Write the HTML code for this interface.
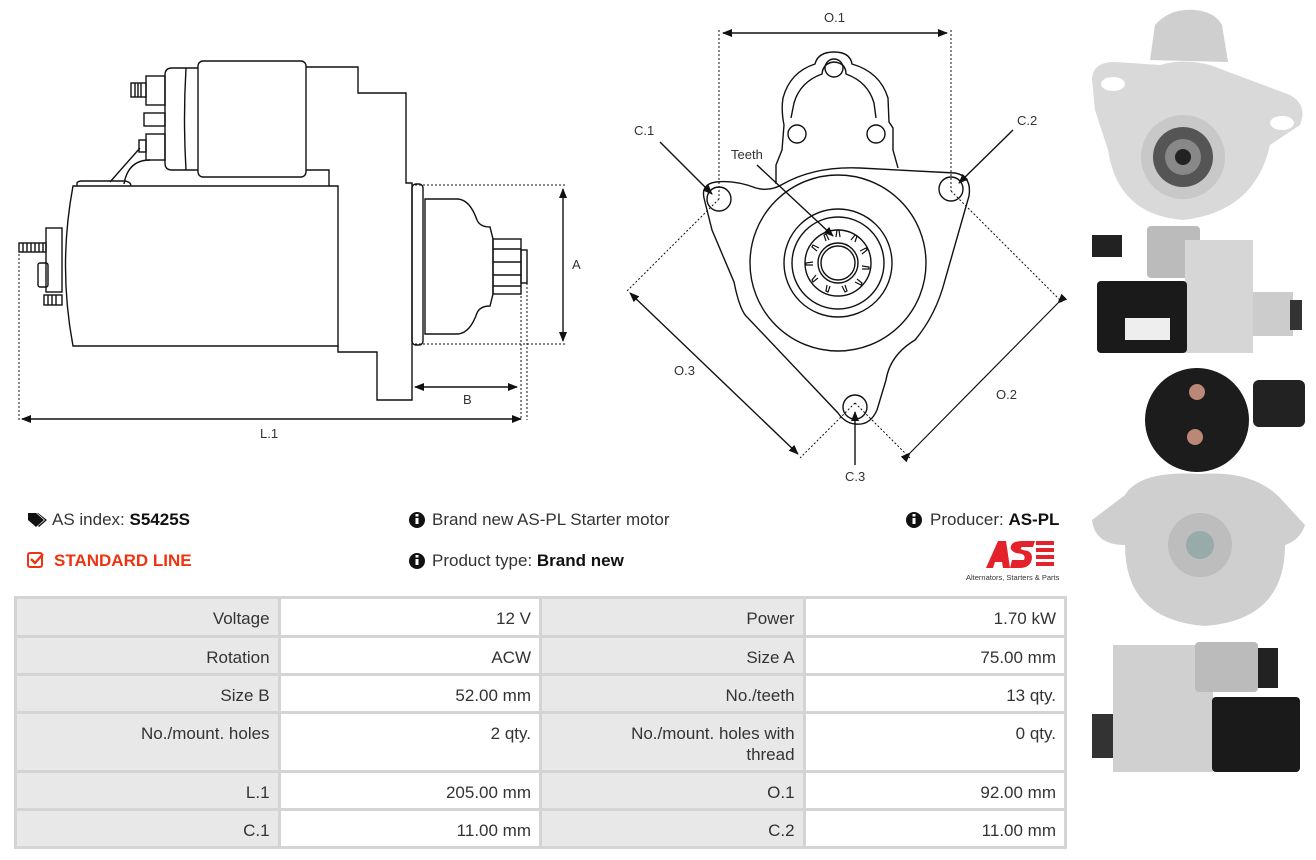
<!DOCTYPE html>
<html><head><meta charset="utf-8">
<style>
*{margin:0;padding:0;box-sizing:border-box}
body{width:1316px;height:860px;background:#fff;position:relative;overflow:hidden;font-family:"Liberation Sans",Arial,sans-serif;color:#222}
svg{position:absolute;left:0;top:0}
.t{position:absolute;font-size:17px;white-space:nowrap;color:#333}
.t b{color:#111}
table{position:absolute;left:14px;top:596px;width:1053px;border-collapse:collapse;font-size:17px;color:#333}
td{border:3px solid #d4d4d4;text-align:right;padding:0 8px;vertical-align:top;padding-top:9px;line-height:21px}
td.l{background:#e8e8e8;width:264px}
td.v{background:#fff;width:262px}
</style></head><body>
<svg width="1316" height="860" viewBox="0 0 1316 860" fill="none" stroke="#111" stroke-width="1.4">
<defs>
<marker id="ar" markerWidth="10" markerHeight="8" refX="9" refY="4" orient="auto" markerUnits="userSpaceOnUse"><path d="M0,0 L10,4 L0,8 Z" fill="#111" stroke="none"/></marker>
<marker id="al" markerWidth="10" markerHeight="8" refX="1" refY="4" orient="auto" markerUnits="userSpaceOnUse"><path d="M10,0 L0,4 L10,8 Z" fill="#111" stroke="none"/></marker>
</defs>
<!-- SIDE VIEW -->
<path d="M306,67 L358,67 L358,93 L406,93 L406,183 L412,183 L412,400 L377,400 L377,352 L338,352 L338,346"/>
<rect x="198" y="61" width="108" height="116" rx="5"/>
<path d="M198,68 L172,68 Q165,68 165,75 L165,163 Q165,170 172,170 L198,170"/>
<path d="M186,68 Q183,119 186,170"/>
<path d="M306,170 L329,170 L329,186"/>
<rect x="146" y="76" width="19" height="29"/>
<rect x="131" y="83" width="15" height="14"/>
<path d="M135,83v14M138,83v14M141,83v14"/>
<rect x="144" y="113" width="21" height="13"/>
<rect x="146" y="134" width="19" height="26"/>
<rect x="139" y="140" width="7" height="12"/>
<path d="M110,182 L140,148 M124,184 Q128,160 150,160"/>
<path d="M77,186 L77,183 Q78,181 82,181 L125,181 Q131,182 131,186"/>
<path d="M73,186 L338,186 L338,346 L73,346 Q58,266 73,186 Z"/>
<rect x="46" y="228" width="16" height="64"/>
<rect x="19" y="243" width="27" height="9"/>
<path d="M23,243v9M27,243v9M31,243v9M35,243v9M39,243v9M43,243v9"/>
<rect x="38" y="263" width="10" height="24" rx="2"/>
<rect x="44" y="295" width="18" height="10"/>
<path d="M48,295v10M52,295v10M56,295v10"/>
<rect x="412" y="184" width="11" height="161" rx="4"/>
<path d="M425,199 L458,199 Q470,200 477,220 Q480,227 490,227 L493,239 L493,294 L490,306 Q480,306 477,313 Q470,333 458,334 L425,334 Z"/>
<rect x="493" y="239" width="28" height="55"/>
<path d="M493,249h28M493,262h28M493,275h28M493,286h28"/>
<rect x="521" y="250" width="6" height="33"/>
<g stroke-dasharray="2,2" stroke-width="1">
<path d="M415,185 H567 M415,344 H567 M521,296 V420 M527,283 V420 M19,250 V420"/>
</g>
<path d="M563,189 V341" marker-start="url(#al)" marker-end="url(#ar)"/>
<path d="M415,387 H517" marker-start="url(#al)" marker-end="url(#ar)"/>
<path d="M22,419 H521" marker-start="url(#al)" marker-end="url(#ar)"/>
<!-- FRONT VIEW -->
<path d="M776,184 L776,165 L782,150 L784,125 Q781,110 783,98 Q790,72 815,64 Q818,52 834,52 Q850,52 852,64 Q880,72 888,98 L889,122 L893,128 L893,150 L898,168"/>
<path d="M791,118 L794,103 Q800,82 822,74 Q823,63 834,62 Q846,63 846,74 Q868,82 874,103 L876,118"/>
<circle cx="834" cy="68" r="9"/><circle cx="797" cy="134" r="9"/><circle cx="876" cy="134" r="9"/>
<path d="M704,198 Q701,184 716,182 Q735,180 756,188 Q770,192 783,184 Q815,166 860,168 L955,173 Q972,176 969,196 L945,280 Q936,315 915,340 Q890,355 886,380 L877,410 Q870,426 855,424 Q845,423 838,413 L748,318 Q740,312 734,282 L712,230 Z"/>
<circle cx="838" cy="263" r="88"/>
<circle cx="838" cy="263" r="54"/><circle cx="838" cy="263" r="46"/>
<circle cx="838" cy="263" r="33"/>
<circle cx="838" cy="263" r="20"/><circle cx="838" cy="263" r="17"/>
<g stroke-width="1.2">
<path d="M836,237 l1,-7 l2,0 l1,7 M851,240 l4,-5 l2,1 l-2,6 M860,251 l6,-3 l1,2 l-5,4 M862,266 l7,1 l0,2 l-7,0 M857,279 l5,4 l-1,2 l-6,-3 M845,285 l2,6 l-2,1 l-3,-6 M830,286 l-2,6 l-2,-1 l1,-6 M818,278 l-5,4 l-1,-2 l4,-5 M813,265 l-7,0 l0,-2 l7,-1 M817,251 l-5,-4 l1,-2 l6,3 M826,241 l-2,-6 l2,-1 l3,6"/>
</g>
<circle cx="719" cy="199" r="12"/><circle cx="951" cy="189" r="12"/><circle cx="855" cy="407" r="12"/>
<g stroke-dasharray="2,2" stroke-width="1">
<path d="M719,30 V199 M951,30 V191 M719,199 L626,292 M951,191 L1062,302 M855,403 L800,458 M855,403 L910,458"/>
</g>
<path d="M723,33 H947" marker-start="url(#al)" marker-end="url(#ar)"/>
<path d="M630,293 L798,454" marker-start="url(#al)" marker-end="url(#ar)"/>
<path d="M1058,303 L910,453" marker-start="url(#ar)" marker-end="url(#al)" stroke-width="1.2"/>
<path d="M660,142 L712,194" marker-end="url(#ar)"/>
<path d="M1013,130 L959,183" marker-end="url(#ar)"/>
<path d="M757,165 L833,236" marker-end="url(#ar)"/>
<path d="M855,465 L855,412" marker-end="url(#ar)"/>
<g fill="#333" stroke="none" font-family="Liberation Sans,sans-serif" font-size="13">
<text x="824" y="22">O.1</text><text x="634" y="135">C.1</text><text x="1017" y="125">C.2</text>
<text x="731" y="159">Teeth</text><text x="674" y="375">O.3</text><text x="996" y="399">O.2</text>
<text x="845" y="481">C.3</text><text x="572" y="269">A</text><text x="463" y="404">B</text><text x="260" y="438">L.1</text>
</g>
<!-- PHOTOS -->
<g stroke="none">
<path d="M1150,60 L1155,25 Q1170,8 1195,10 Q1215,12 1222,25 L1228,62 Z" fill="#cfcfcf"/>
<path d="M1092,80 Q1092,62 1115,62 L1160,65 Q1183,58 1210,65 L1290,95 Q1308,105 1300,125 L1270,145 Q1255,212 1183,220 Q1118,215 1108,150 L1095,110 Z" fill="#d9d9d9"/>
<circle cx="1183" cy="157" r="42" fill="#c8c8c8"/>
<circle cx="1183" cy="157" r="30" fill="#555"/><circle cx="1183" cy="157" r="18" fill="#888"/><circle cx="1183" cy="157" r="8" fill="#222"/>
<ellipse cx="1113" cy="84" rx="12" ry="7" fill="#fff"/><ellipse cx="1282" cy="123" rx="12" ry="7" fill="#fff"/>
<rect x="1147" y="226" width="53" height="52" rx="4" fill="#bbb"/>
<rect x="1092" y="235" width="30" height="22" fill="#222"/>
<rect x="1185" y="240" width="68" height="113" fill="#d6d6d6"/>
<rect x="1097" y="281" width="90" height="72" rx="4" fill="#1a1a1a"/>
<rect x="1125" y="318" width="45" height="22" fill="#eee"/>
<rect x="1253" y="292" width="40" height="44" fill="#ccc"/>
<rect x="1290" y="300" width="12" height="30" fill="#333"/>
<path d="M1092,520 L1125,495 Q1140,470 1200,474 Q1255,470 1282,500 L1305,525 Q1300,540 1285,545 Q1285,620 1205,626 Q1125,620 1125,545 Q1095,545 1092,520 Z" fill="#cfcfcf"/>
<circle cx="1200" cy="545" r="32" fill="#bdbdbd"/><circle cx="1200" cy="545" r="14" fill="#9aa"/>
<circle cx="1197" cy="420" r="52" fill="#1c1c1c"/>
<rect x="1253" y="380" width="52" height="47" rx="6" fill="#222"/>
<circle cx="1197" cy="392" r="8" fill="#b87"/><circle cx="1195" cy="437" r="8" fill="#b87"/>
<rect x="1113" y="645" width="100" height="127" fill="#d0d0d0"/>
<rect x="1195" y="642" width="63" height="50" rx="4" fill="#bbb"/>
<rect x="1258" y="648" width="20" height="40" fill="#222"/>
<rect x="1212" y="697" width="88" height="75" rx="4" fill="#1a1a1a"/>
<rect x="1092" y="714" width="21" height="44" fill="#333"/>
</g>
<!-- icons -->
<g fill="#111" stroke="none">
<path d="M28,513 h8 l8,7 l-8,7 l-8,-7 z"/><path d="M38,513 l9,7 l-8,7 l-1,-1 l7,-6 l-8,-7 z"/>
<circle cx="417" cy="520" r="8"/><circle cx="417" cy="561" r="8"/><circle cx="914" cy="520" r="8"/>
</g>
<g fill="#fff" stroke="none"><rect x="415.5" y="518" width="3" height="6"/><rect x="415.5" y="514" width="3" height="2.5"/>
<rect x="415.5" y="559" width="3" height="6"/><rect x="415.5" y="555" width="3" height="2.5"/>
<rect x="912.5" y="518" width="3" height="6"/><rect x="912.5" y="514" width="3" height="2.5"/></g>
<rect x="28" y="553" width="14" height="14" rx="2" stroke="#e31" stroke-width="2"/>
<path d="M31,559 l4,4 l8,-9" stroke="#e31" stroke-width="2.4"/>
<!-- AS logo -->
<g stroke="none" fill="#e3222b">
<path d="M986,568 L998,541 L1006,541 L1010,568 L1003,568 L1002,562 L995,562 L993,568 Z"/>
<path d="M1012,560 L1024,560 Q1026,556 1022,554 L1016,553 Q1008,550 1012,544 Q1015,541 1022,541 L1035,541 L1033,547 L1022,547 Q1019,549 1023,550 L1028,551 Q1034,554 1031,562 Q1028,568 1020,568 L1010,568 Z"/>
<rect x="1036" y="541" width="18" height="4"/><rect x="1036" y="548" width="18" height="4"/><rect x="1036" y="555" width="18" height="4"/><rect x="1036" y="562" width="18" height="4"/>
</g>
<text x="966" y="580" font-size="7.5" fill="#333" stroke="none" font-family="Liberation Sans,sans-serif">Alternators, Starters &amp; Parts</text>
</svg>
<div class="t" style="left:52px;top:510px">AS index: <b>S5425S</b></div>
<div class="t" style="left:54px;top:551px;color:#e31;font-weight:bold">STANDARD LINE</div>
<div class="t" style="left:432px;top:510px">Brand new AS-PL Starter motor</div>
<div class="t" style="left:432px;top:551px">Product type: <b>Brand new</b></div>
<div class="t" style="left:930px;top:510px">Producer: <b>AS-PL</b></div>
<table>
<tr style="height:39px"><td class="l">Voltage</td><td class="v">12 V</td><td class="l">Power</td><td class="v">1.70 kW</td></tr>
<tr style="height:38px"><td class="l">Rotation</td><td class="v">ACW</td><td class="l">Size A</td><td class="v">75.00 mm</td></tr>
<tr style="height:38px"><td class="l">Size B</td><td class="v">52.00 mm</td><td class="l">No./teeth</td><td class="v">13 qty.</td></tr>
<tr style="height:59px"><td class="l">No./mount. holes</td><td class="v">2 qty.</td><td class="l">No./mount. holes with<br>thread</td><td class="v">0 qty.</td></tr>
<tr style="height:38px"><td class="l">L.1</td><td class="v">205.00 mm</td><td class="l">O.1</td><td class="v">92.00 mm</td></tr>
<tr style="height:38px"><td class="l">C.1</td><td class="v">11.00 mm</td><td class="l">C.2</td><td class="v">11.00 mm</td></tr>
</table>
</body></html>
